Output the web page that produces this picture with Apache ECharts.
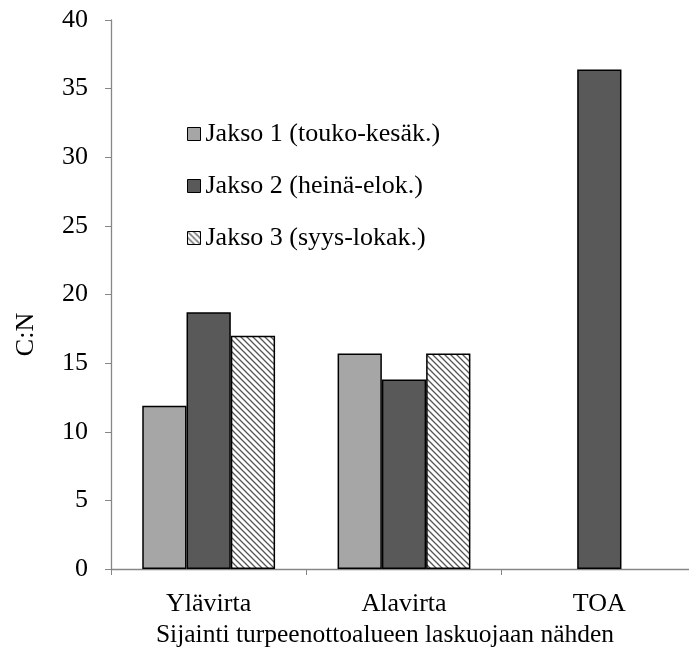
<!DOCTYPE html>
<html>
<head>
<meta charset="utf-8">
<script src="https://cdn.jsdelivr.net/npm/echarts@6/dist/echarts.min.js"></script>
<style>
  html, body { margin: 0; padding: 0; background: #fff; }
  #chart { width: 689px; height: 655px; }
</style>
</head>
<body>
<div id="chart"></div>
<script>
// Sampling sites relative to the peat extraction outlet
const categories = ['Ylävirta', 'Alavirta', 'TOA'];
const seriesNames = ['Jakso 1 (touko-kesäk.)', 'Jakso 2 (heinä-elok.)', 'Jakso 3 (syys-lokak.)'];
// C:N ratios per period
const jakso1 = [11.9, 15.7, null];
const jakso2 = [18.7, 13.8, 36.4];
const jakso3 = [17.0, 15.7, null];
const yTicks = [0, 5, 10, 15, 20, 25, 30, 35, 40];

// Diagonal hatch fill for the third period
function hatchCanvas() {
  const c = document.createElement('canvas');
  c.width = 6; c.height = 6;
  const g = c.getContext('2d');
  g.fillStyle = '#ffffff';
  g.fillRect(0, 0, 6, 6);
  g.strokeStyle = '#555555';
  g.lineWidth = 1.3;
  g.beginPath();
  g.moveTo(-1, -1); g.lineTo(7, 7);
  g.moveTo(-1, 5); g.lineTo(1, 7);
  g.moveTo(5, -1); g.lineTo(7, 1);
  g.stroke();
  return c;
}

const font = '"Liberation Serif", "Times New Roman", serif';
const fs = 26;
const chart = echarts.init(document.getElementById('chart'));
const barStyle = (color) => ({ color: color, borderColor: '#000', borderWidth: 1.5 });

chart.setOption({
  animation: false,
  textStyle: { fontFamily: font },
  grid: { left: 111, right: -8, top: 20, bottom: 86, containLabel: false, outerBoundsMode: 'none' },
  legend: {
    orient: 'vertical',
    left: 182,
    top: 116,
    icon: 'rect',
    itemWidth: 13,
    itemHeight: 13,
    itemGap: 26,
    itemStyle: { borderColor: '#000', borderWidth: 1 },
    textStyle: { fontFamily: font, fontSize: fs, color: '#000', padding: [0, 0, 0, 0] },
    data: seriesNames
  },
  xAxis: {
    type: 'category',
    data: categories,
    name: 'Sijainti turpeenottoalueen laskuojaan nähden',
    nameLocation: 'middle',
    nameGap: 50,
    nameTextStyle: { fontFamily: font, fontSize: 25.5, color: '#000', padding: [0, 38, 0, 0] },
    axisLine: { lineStyle: { color: '#868686', width: 1.3 } },
    axisTick: { show: true, alignWithLabel: false, length: 6, lineStyle: { color: '#868686' } },
    axisLabel: { fontFamily: font, fontSize: fs, color: '#000', margin: 22 }
  },
  yAxis: {
    type: 'value',
    min: yTicks[0],
    max: yTicks[yTicks.length - 1],
    interval: 5,
    name: 'C:N',
    nameLocation: 'middle',
    nameGap: 72,
    nameRotate: 90,
    nameTextStyle: { fontFamily: font, fontSize: fs, color: '#000', padding: [0, 80, 0, 0] },
    axisLine: { show: true, lineStyle: { color: '#868686', width: 1.3 } },
    axisTick: { show: true, length: 6, lineStyle: { color: '#868686' } },
    axisLabel: { fontFamily: font, fontSize: fs, color: '#000', margin: 23 },
    splitLine: { show: false }
  },
  series: [
    { name: seriesNames[0], type: 'bar', data: jakso1, barGap: '0%', barCategoryGap: '32%', itemStyle: barStyle('#a6a6a6') },
    { name: seriesNames[1], type: 'bar', data: jakso2, barGap: '0%', barCategoryGap: '32%', itemStyle: barStyle('#595959') },
    { name: seriesNames[2], type: 'bar', data: jakso3, barGap: '0%', barCategoryGap: '32%',
      itemStyle: barStyle({ image: hatchCanvas(), repeat: 'repeat' }) }
  ]
});
</script>
</body>
</html>
